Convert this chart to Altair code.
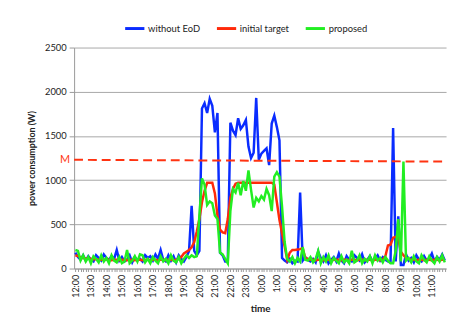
import altair as alt
import pandas as pd

hour_labels = ["12:00", "13:00", "14:00", "15:00", "16:00", "17:00", "18:00", "19:00",
               "20:00", "21:00", "22:00", "23:00", "0:00", "1:00", "2:00", "3:00",
               "4:00", "5:00", "6:00", "7:00", "8:00", "9:00", "10:00", "11:00"]

series_names = ["without EoD", "initial target", "proposed"]
series_colors = ["#0a2cff", "#ff2a0a", "#22ee22"]

without_eod = [
    180, 130, 100, 150, 90, 140, 100, 80, 150, 120,
    90, 160, 120, 100, 140, 110, 210, 90, 130, 80,
    100, 150, 70, 130, 90, 110, 80, 150, 120, 140,
    90, 160, 110, 210, 100, 80, 150, 90, 140, 70,
    150, 110, 80, 130, 200,
    710, 200, 150, 200,
    1810, 1870, 1760, 1920, 1840, 1540, 1760, 180, 150, 80,
    80, 1650, 1560, 1510, 1700, 1580, 1620, 1680, 1380, 1250, 1310,
    1930, 1230, 1300, 1330, 1360, 1170, 1640, 1730, 1600, 1450, 120,
    90, 70, 110, 60, 90, 80, 860, 90, 130, 100, 80, 110, 70,
    190, 120, 80, 150, 60, 100, 130, 80, 170, 90, 60, 140, 100, 80,
    150, 120, 90, 160, 70, 100, 140, 80, 110, 150, 90, 130, 100, 80, 70,
    1590, 80, 590, 40, 40,
    160, 90, 120, 70, 150, 100, 80, 140, 90, 110, 170, 80, 130, 100, 160, 90,
]

initial_target = [
    150, 140, 130, 120, 115, 110, 110, 105, 105, 100,
    100, 100, 105, 100, 95, 100, 100, 95, 100, 100,
    95, 100, 100, 95, 100, 100, 95, 100, 100, 95,
    100, 100, 95, 100, 100, 95, 100, 100, 95, 100,
    110, 130, 170, 190, 210,
    240, 300, 420, 560,
    750, 880, 970, 970, 970, 850, 600, 440, 410, 400,
    560, 800, 900, 960, 970, 970, 970, 970, 970, 970, 970,
    970, 970, 970, 970, 970, 970, 970, 950, 750, 550, 400,
    250, 100, 180, 210, 210, 215, 220, 230, 120, 110, 100, 100, 95,
    100, 100, 95, 100, 100, 95, 100, 100, 100, 95, 100, 100, 95, 100,
    100, 95, 100, 100, 95, 100, 100, 95, 100, 100, 95, 100, 140, 260, 270,
    350, 360, 350, 190, 150,
    120, 110, 100, 100, 95, 100, 100, 95, 100, 100, 95, 100, 100, 95, 100, 100,
]

proposed = [
    210, 200, 90, 150, 80, 130, 60, 140, 110, 70,
    150, 80, 120, 60, 150, 90, 70, 130, 60, 80,
    210, 60, 90, 140, 80, 160, 150, 70, 110, 60,
    130, 90, 60, 140, 80, 110, 60, 150, 90, 70,
    130, 60, 110, 150, 120,
    150, 130, 140, 600,
    1020, 950, 720, 760, 740, 600, 560, 180, 160, 110,
    60, 650, 900, 860, 970, 830, 990, 880, 1110, 890, 690,
    800, 760, 820, 780, 900, 830, 650, 1040, 1090, 1040, 700,
    300, 110, 80, 130, 60, 120, 80, 240, 100, 90, 130, 70, 110,
    200, 60, 130, 80, 150, 60, 120, 90, 60, 140, 70, 100, 60, 200,
    70, 90, 150, 60, 110, 80, 140, 60, 150, 90, 120, 70, 130, 90, 60,
    60, 200, 560, 80, 1210,
    90, 120, 70, 140, 80, 60, 150, 100, 70, 140, 90, 60, 130, 80, 150, 70,
]

m_label = "M"
m_values = [1230, 1210]

n = len(without_eod)
rows = []
for name, vals in zip(series_names, [without_eod, initial_target, proposed]):
    for i, v in enumerate(vals):
        rows.append({"idx": i, "value": v, "series": name})
df = pd.DataFrame(rows)

m_df = pd.DataFrame({"idx": [-0.5, n - 0.5], "value": m_values})
m_text_df = pd.DataFrame({"idx": [-0.5], "value": [m_values[0]], "label": [m_label]})

label_array = "[" + ",".join("'" + h + "'" for h in hour_labels) + "]"
label_expr = f"datum.value % 6 == 0 ? {label_array}[datum.value / 6] : ''"

FONT = "Lato"

x_enc = alt.X(
    "idx:Q",
    scale=alt.Scale(domain=[-0.5, n - 0.5], nice=False, zero=False),
    axis=alt.Axis(
        title="time",
        values=list(range(n)),
        labelExpr=label_expr,
        labelAngle=270,
        labelOverlap=False,
        labelFontSize=9,
        labelColor="#222222",
        labelPadding=3,
        tickSize=3,
        tickColor="#999999",
        domainColor="#999999",
        grid=False,
        titleFontSize=10,
        titleFontWeight="bold",
        titleColor="#222222",
        titlePadding=6,
    ),
)

y_enc = alt.Y(
    "value:Q",
    scale=alt.Scale(domain=[0, 2500], nice=False),
    axis=alt.Axis(
        title="power consumption (W)",
        values=[0, 500, 1000, 1500, 2000, 2500],
        format="d",
        labelFontSize=9.5,
        labelColor="#222222",
        labelPadding=3,
        tickSize=5,
        tickColor="#999999",
        domainColor="#999999",
        gridColor="#a8a8a8",
        titleFontSize=9,
        titleFontWeight="bold",
        titleColor="#222222",
        titlePadding=8,
    ),
)

lines = alt.Chart(df).mark_line(strokeWidth=2.5).encode(
    x=x_enc,
    y=y_enc,
    color=alt.Color(
        "series:N",
        scale=alt.Scale(domain=series_names, range=series_colors),
        sort=series_names,
        legend=alt.Legend(
            title=None,
            orient="none",
            direction="horizontal",
            legendX=50,
            legendY=-31,
            symbolType="stroke",
            symbolSize=380,
            symbolStrokeWidth=3,
            labelFontSize=9.5,
            labelColor="#222222",
            columnPadding=10,
            labelOffset=2,
        ),
    ),
    order=alt.Order("idx:Q"),
)

m_line = alt.Chart(m_df).mark_line(
    color="#ff3311", strokeWidth=2, strokeDash=[9, 5], clip=False
).encode(x=x_enc, y=y_enc)

m_text = alt.Chart(m_text_df).mark_text(
    color="#ff3311", fontSize=11, align="right", baseline="middle", dx=-4, font=FONT
).encode(x=x_enc, y=y_enc, text="label:N")

chart = alt.layer(lines, m_line, m_text).properties(
    width=377,
    height=224,
    autosize=alt.AutoSizeParams(type="none"),
    padding={"left": 67, "top": 38, "right": 5, "bottom": 45},
).configure(
    font=FONT,
).configure_view(
    stroke=None,
).configure_axis(
    labelFont=FONT,
    titleFont=FONT,
).configure_legend(
    labelFont=FONT,
)

chart.save("out.html", embed_options={"renderer": "svg", "actions": False})
